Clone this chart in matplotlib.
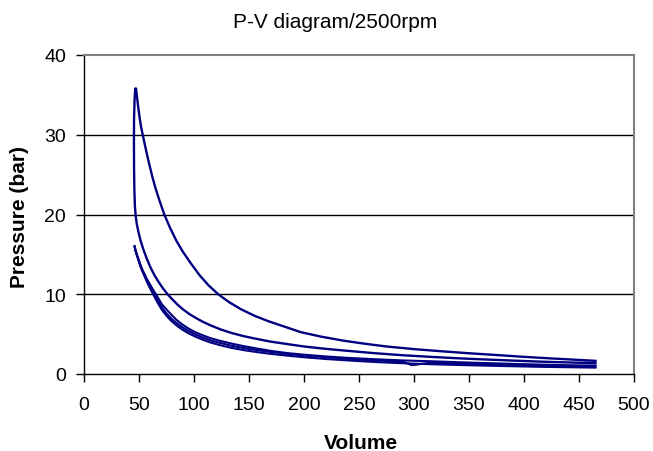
import matplotlib.pyplot as plt

# compression curve of the firing cycle (BDC -> TDC), ends in the combustion rise
mid_v = [465, 440, 415, 390, 365, 340, 315, 290, 265, 240, 220, 200, 185, 170, 157, 145,
         134, 124, 115, 108, 102, 96, 90, 85, 80, 76, 72, 68, 64, 60, 57, 54, 51.5, 49.5,
         48, 47, 46.3, 45.8, 45.5, 45.4, 45.5]
mid_p = [1.35, 1.45, 1.55, 1.68, 1.82, 1.97, 2.15, 2.35, 2.6, 2.9, 3.15, 3.45, 3.75, 4.05,
         4.4, 4.75, 5.15, 5.6, 6.1, 6.55, 7.0, 7.5, 8.1, 8.7, 9.4, 10.0, 10.7, 11.5, 12.4,
         13.5, 14.5, 15.6, 16.7, 17.8, 18.8, 19.8, 21.0, 23.0, 26.0, 29.0, 32.0]

# peak and expansion stroke
exp_v = [46, 46.6, 47.3, 48, 49, 50.5, 52, 54, 56.5, 59, 62, 65, 68.5, 73, 78, 84, 90, 97,
         105, 113, 122, 132, 143, 155, 168, 182, 197, 215, 235, 255, 275, 300, 325, 350,
         375, 400, 425, 445, 465]
exp_p = [34.5, 35.8, 35.8, 35.0, 33.8, 32.2, 30.9, 29.6, 28.0, 26.5, 24.8, 23.3, 21.8, 20.0,
         18.4, 16.7, 15.3, 13.9, 12.4, 11.15, 10.0, 9.0, 8.1, 7.3, 6.6, 5.95, 5.25, 4.7,
         4.2, 3.8, 3.45, 3.12, 2.85, 2.6, 2.38, 2.15, 1.95, 1.8, 1.65]

# lower bundle: overlapping cycles
low_v = [465, 440, 415, 390, 365, 340, 315, 290, 265, 240, 220, 200, 185, 170, 157, 145,
         134, 124, 115, 108, 101, 95, 89, 84, 79, 75, 71, 67.5, 64, 61, 58, 55.5, 53, 51,
         49.5, 48, 46.8, 46]
low_a = [1.05, 1.1, 1.18, 1.27, 1.37, 1.48, 1.6, 1.7, 1.85, 2.02, 2.2, 2.42, 2.62, 2.9,
         3.2, 3.5, 3.82, 4.15, 4.5, 4.85, 5.25, 5.7, 6.25, 6.8, 7.5, 8.1, 8.7, 9.5, 10.3,
         11.0, 11.7, 12.4, 13.1, 13.8, 14.4, 15.0, 15.5, 16.0]
low_b = [0.8, 0.85, 0.9, 0.97, 1.05, 1.13, 1.23, 1.35, 1.5, 1.7, 1.88, 2.1, 2.3, 2.52, 2.75,
         3.0, 3.28, 3.6, 3.95, 4.3, 4.7, 5.1, 5.6, 6.1, 6.7, 7.3, 8.0, 8.8, 9.7, 10.5, 11.3,
         12.1, 12.9, 13.6, 14.3, 14.9, 15.5, 16.0]
glitch_v = [465, 440, 415, 390, 365, 340, 315, 298, 290, 265, 240, 220, 200, 185, 170, 157,
            145, 134, 124, 115, 108, 101, 95, 89, 84, 79, 75, 71, 67.5, 64, 61, 58, 55.5,
            53, 51, 49.5, 48, 46.8, 46]
low_c = [0.92, 0.97, 1.04, 1.12, 1.2, 1.3, 1.42, 1.1, 1.55, 1.7, 1.9, 2.1, 2.32, 2.52, 2.76,
         3.0, 3.26, 3.55, 3.88, 4.22, 4.57, 4.97, 5.4, 5.9, 6.4, 7.0, 7.6, 8.3, 9.1, 9.95,
         10.7, 11.5, 12.25, 13.0, 13.7, 14.35, 14.95, 15.5, 16.0]

line_col = '#000080'

plt.rcParams['font.family'] = ['Liberation Sans', 'DejaVu Sans']
fig = plt.figure(figsize=(6.53, 4.52), dpi=100)
ax = fig.add_axes([84/653, 1-375/452, 550/653, 319/452])

ax.plot(mid_v + exp_v, mid_p + exp_p, color=line_col, lw=1.7, solid_joinstyle='round')
ax.plot(low_v, low_a, color=line_col, lw=1.5, solid_joinstyle='round')
ax.plot(low_v, low_b, color=line_col, lw=1.5, solid_joinstyle='round')
ax.plot(glitch_v, low_c, color=line_col, lw=1.5, solid_joinstyle='round')

ax.set_xlim(0, 500)
ax.set_ylim(0, 40)
ax.set_xticks(range(0, 501, 50))
ax.set_yticks(range(0, 41, 10))
for y in (10, 20, 30):
    ax.axhline(y, color='black', lw=1, zorder=0)

for s in ('top', 'right'):
    ax.spines[s].set_color('#808080')
    ax.spines[s].set_linewidth(1.5)
for s in ('left', 'bottom'):
    ax.spines[s].set_color('black')
    ax.spines[s].set_linewidth(1)

ax.tick_params(direction='out', length=6, width=1, labelsize=14, colors='black')
ax.tick_params(axis='x', pad=10)
ax.tick_params(axis='y', pad=7)

fig.text(335/653, 1-28/452, 'P-V diagram/2500rpm', ha='center', va='baseline',
         fontsize=15)
fig.text(361/653, 1-449/452, 'Volume', ha='center', va='baseline',
         fontsize=15, fontweight='bold')
fig.text(20/653, 1-217/452, 'Pressure (bar)', ha='center', va='center', rotation=90,
         fontsize=15, fontweight='bold')

fig.savefig('out.png', dpi=100)
